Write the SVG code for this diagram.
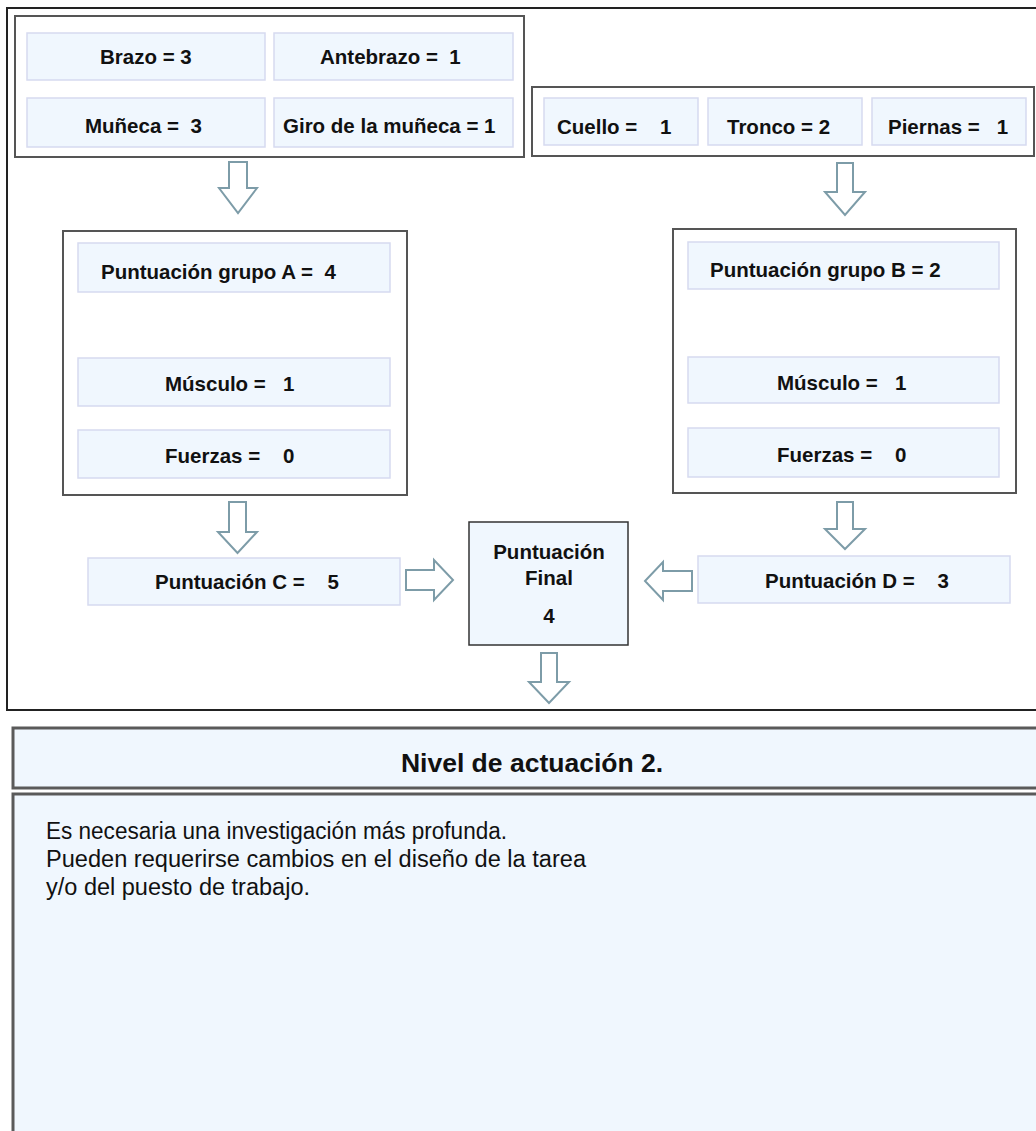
<svg xmlns="http://www.w3.org/2000/svg" width="1036" height="1131" viewBox="0 0 1036 1131">
<style>
.frame{fill:none;stroke:#222;stroke-width:2}
.grp{fill:#fff;stroke:#555;stroke-width:2}
.cell{fill:#f0f7fe;stroke:#d6daf0;stroke-width:1.5}
.fin{fill:#f0f7fe;stroke:#333;stroke-width:1.5}
.band{fill:#f0f7fe;stroke:#5a5a5a;stroke-width:3}
.arr{fill:#fff;stroke:#7d9ca8;stroke-width:2;stroke-linejoin:miter}
text{font-family:"Liberation Sans",Arial,sans-serif;fill:#111;white-space:pre}
.b{font-weight:bold;font-size:20.5px}
.c{text-anchor:middle}
.t{font-weight:bold;font-size:26.5px;text-anchor:middle}
.p{font-size:23px}
</style>
<rect width="1036" height="1131" fill="#fff"/>
<rect class="frame" x="7" y="8" width="1040" height="702"/>

<g id="grupoBrazo">
<rect class="grp" x="15" y="16" width="509" height="141"/>
<g id="brazo"><rect class="cell" x="27" y="33" width="238" height="47"/><text class="b" x="100" y="64">Brazo = 3</text></g>
<g id="antebrazo"><rect class="cell" x="274" y="33" width="239" height="47"/><text class="b" x="320" y="64">Antebrazo =  1</text></g>
<g id="muneca"><rect class="cell" x="27" y="98" width="238" height="49"/><text class="b" x="85" y="133">Muñeca =  3</text></g>
<g id="giro"><rect class="cell" x="274" y="98" width="239" height="49"/><text class="b" x="283" y="133">Giro de la muñeca = 1</text></g>
</g>

<g id="grupoCuello">
<rect class="grp" x="532" y="87" width="502" height="69"/>
<g id="cuello"><rect class="cell" x="544" y="98" width="154" height="47"/><text class="b" x="557" y="134">Cuello =    1</text></g>
<g id="tronco"><rect class="cell" x="708" y="98" width="154" height="47"/><text class="b" x="727" y="134">Tronco = 2</text></g>
<g id="piernas"><rect class="cell" x="872" y="98" width="154" height="47"/><text class="b" x="888" y="134">Piernas =   1</text></g>
</g>

<g id="grupoA">
<rect class="grp" x="63" y="231" width="344" height="264"/>
<g id="puntA"><rect class="cell" x="78" y="243" width="312" height="49"/><text class="b" x="101" y="279">Puntuación grupo A =  4</text></g>
<g id="musculoA"><rect class="cell" x="78" y="358" width="312" height="48"/><text class="b" x="165" y="391">Músculo =   1</text></g>
<g id="fuerzasA"><rect class="cell" x="78" y="430" width="312" height="48"/><text class="b" x="165" y="463">Fuerzas =    0</text></g>
</g>

<g id="grupoB">
<rect class="grp" x="673" y="229" width="343" height="264"/>
<g id="puntB"><rect class="cell" x="688" y="242" width="311" height="47"/><text class="b" x="710" y="277">Puntuación grupo B = 2</text></g>
<g id="musculoB"><rect class="cell" x="688" y="357" width="311" height="46"/><text class="b" x="777" y="390">Músculo =   1</text></g>
<g id="fuerzasB"><rect class="cell" x="688" y="428" width="311" height="49"/><text class="b" x="777" y="462">Fuerzas =    0</text></g>
</g>

<g id="puntC"><rect class="cell" x="88" y="558" width="312" height="47"/><text class="b" x="155" y="589">Puntuación C =    5</text></g>
<g id="puntD"><rect class="cell" x="698" y="556" width="312" height="47"/><text class="b" x="765" y="588">Puntuación D =    3</text></g>

<g id="final">
<rect class="fin" x="469" y="522" width="159" height="123"/>
<text class="b c" x="549" y="559">Puntuación</text>
<text class="b c" x="549" y="585">Final</text>
<text class="b c" x="549" y="623">4</text>
</g>

<g id="connectors">
<path class="arr" d="M229,162 H247 V188 H257 L238,213 L219,188 H229 Z"/>
<path class="arr" d="M837,163 H853 V192 H865 L845,215 L825,192 H837 Z"/>
<path class="arr" d="M229,502 H246 V532 H257 L237.5,553 L218,532 H229 Z"/>
<path class="arr" d="M837,502 H853 V529 H865 L845,549 L825,529 H837 Z"/>
<path class="arr" d="M406,570 H434 V560 L453,580 L434,600 V590 H406 Z"/>
<path class="arr" d="M692,571 H663 V562 L645,581 L663,600 V591 H692 Z"/>
<path class="arr" d="M541,653 H557 V682 H569 L549,703 L529,682 H541 Z"/>
</g>

<g id="nivel">
<rect class="band" x="13" y="728" width="1035" height="60"/>
<text class="t" x="532" y="772">Nivel de actuación 2.</text>
</g>

<g id="descripcion">
<rect class="band" x="13" y="794" width="1035" height="350"/>
<text class="p" x="46" y="839" textLength="461" lengthAdjust="spacingAndGlyphs">Es necesaria una investigación más profunda.</text>
<text class="p" x="46" y="867" textLength="540" lengthAdjust="spacingAndGlyphs">Pueden requerirse cambios en el diseño de la tarea</text>
<text class="p" x="46" y="895" textLength="264" lengthAdjust="spacingAndGlyphs">y/o del puesto de trabajo.</text>
</g>
</svg>
